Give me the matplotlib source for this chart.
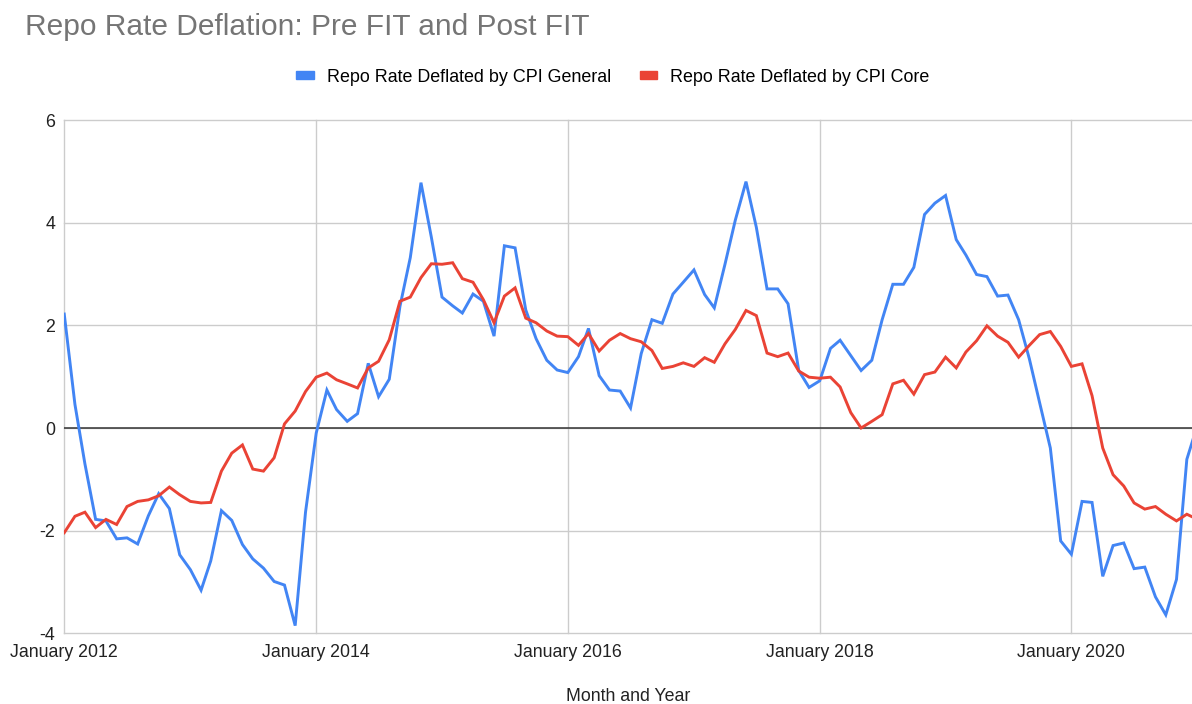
import numpy as np
import pandas as pd
import matplotlib
matplotlib.use("Agg")
import matplotlib.pyplot as plt
from matplotlib.patches import Patch

plt.rcParams['font.family'] = ['Liberation Sans', 'DejaVu Sans']
plt.rcParams['axes.unicode_minus'] = False

# monthly, Jan 2012 .. Jan 2021
months = pd.date_range('2012-01-01', periods=109, freq='MS')

cpi_general = [
    2.22, 0.46, -0.70, -1.78, -1.81, -2.16, -2.14, -2.26, -1.71, -1.28, -1.57, -2.47,
    -2.76, -3.16, -2.59, -1.61, -1.80, -2.27, -2.55, -2.73, -2.99, -3.06, -3.85, -1.64,
    -0.10, 0.74, 0.36, 0.13, 0.28, 1.26, 0.61, 0.95, 2.37, 3.32, 4.78, 3.72,
    2.55, 2.38, 2.24, 2.61, 2.47, 1.79, 3.55, 3.51, 2.30, 1.74, 1.32, 1.13,
    1.08, 1.39, 1.94, 1.02, 0.74, 0.72, 0.39, 1.45, 2.11, 2.04, 2.61, 2.84,
    3.08, 2.60, 2.34, 3.19, 4.05, 4.80, 3.91, 2.71, 2.71, 2.42, 1.12, 0.79,
    0.92, 1.55, 1.71, 1.41, 1.12, 1.32, 2.11, 2.80, 2.80, 3.13, 4.16, 4.38,
    4.53, 3.67, 3.37, 2.99, 2.95, 2.57, 2.59, 2.11, 1.35, 0.49, -0.39, -2.20,
    -2.46, -1.43, -1.45, -2.89, -2.29, -2.24, -2.74, -2.71, -3.29, -3.64, -2.95, -0.61,
    0.06,
]

cpi_core = [
    -2.04, -1.72, -1.64, -1.94, -1.78, -1.88, -1.53, -1.43, -1.40, -1.32, -1.15, -1.30,
    -1.43, -1.46, -1.45, -0.84, -0.49, -0.33, -0.80, -0.84, -0.58, 0.08, 0.33, 0.71,
    0.99, 1.07, 0.94, 0.86, 0.78, 1.17, 1.30, 1.72, 2.47, 2.55, 2.93, 3.20,
    3.19, 3.22, 2.91, 2.84, 2.50, 2.05, 2.57, 2.73, 2.14, 2.05, 1.89, 1.79,
    1.78, 1.61, 1.84, 1.50, 1.71, 1.84, 1.74, 1.68, 1.51, 1.16, 1.20, 1.27,
    1.20, 1.37, 1.28, 1.64, 1.92, 2.29, 2.19, 1.46, 1.39, 1.46, 1.11, 0.99,
    0.97, 0.99, 0.80, 0.30, 0.00, 0.13, 0.26, 0.86, 0.93, 0.66, 1.04, 1.09,
    1.38, 1.17, 1.48, 1.70, 1.99, 1.79, 1.67, 1.38, 1.61, 1.82, 1.88, 1.59,
    1.20, 1.25, 0.63, -0.39, -0.91, -1.13, -1.46, -1.58, -1.53, -1.68, -1.81, -1.68,
    -1.78,
]

tick_dates = pd.to_datetime(['2012-01-01', '2014-01-01', '2016-01-01', '2018-01-01', '2020-01-01'])
tick_labels = ['January 2012', 'January 2014', 'January 2016', 'January 2018', 'January 2020']
y_ticks = [-4, -2, 0, 2, 4, 6]

blue = '#4285F4'
red = '#EA4335'

fig = plt.figure(figsize=(11.92, 7.04), dpi=100)
ax = fig.add_axes([0.0539, 0.1004, 0.9461, 0.7291])

ax.plot(months, cpi_general, color=blue, lw=2.1, solid_joinstyle='miter', zorder=3)
ax.plot(months, cpi_core, color=red, lw=2.1, solid_joinstyle='miter', zorder=3)
ax.axhline(0, color='#333333', lw=1.1, zorder=2)

ax.set_xlim(months[0], pd.Timestamp('2020-12-16'))
ax.set_ylim(-4, 6)
ax.set_yticks(y_ticks)
ax.set_xticks(tick_dates)
ax.set_xticklabels(tick_labels)
ax.grid(True, color='#cccccc', lw=1.0, zorder=1)
for gl in ax.get_ygridlines() + ax.get_xgridlines():
    gl.set_clip_on(False)
for s in ax.spines.values():
    s.set_visible(False)
ax.tick_params(length=0, labelsize=12.8, colors='#222222')
ax.tick_params(axis='x', pad=8)
ax.tick_params(axis='y', pad=6.5)
ax.set_xlabel('Month and Year', fontsize=12.8, color='#222222', labelpad=19)

fig.text(0.021, 0.950, 'Repo Rate Deflation: Pre FIT and Post FIT', fontsize=21.5,
         color='#757575', ha='left', va='baseline')

handles = [Patch(color=blue, label='Repo Rate Deflated by CPI General'),
           Patch(color=red, label='Repo Rate Deflated by CPI Core')]
fig.legend(handles=handles, loc='center', bbox_to_anchor=(0.514, 0.8906), ncol=2,
           frameon=False, fontsize=12.9, handlelength=1.0, handleheight=0.3,
           columnspacing=1.6, handletextpad=0.7)

fig.savefig('out.png', dpi=100)
